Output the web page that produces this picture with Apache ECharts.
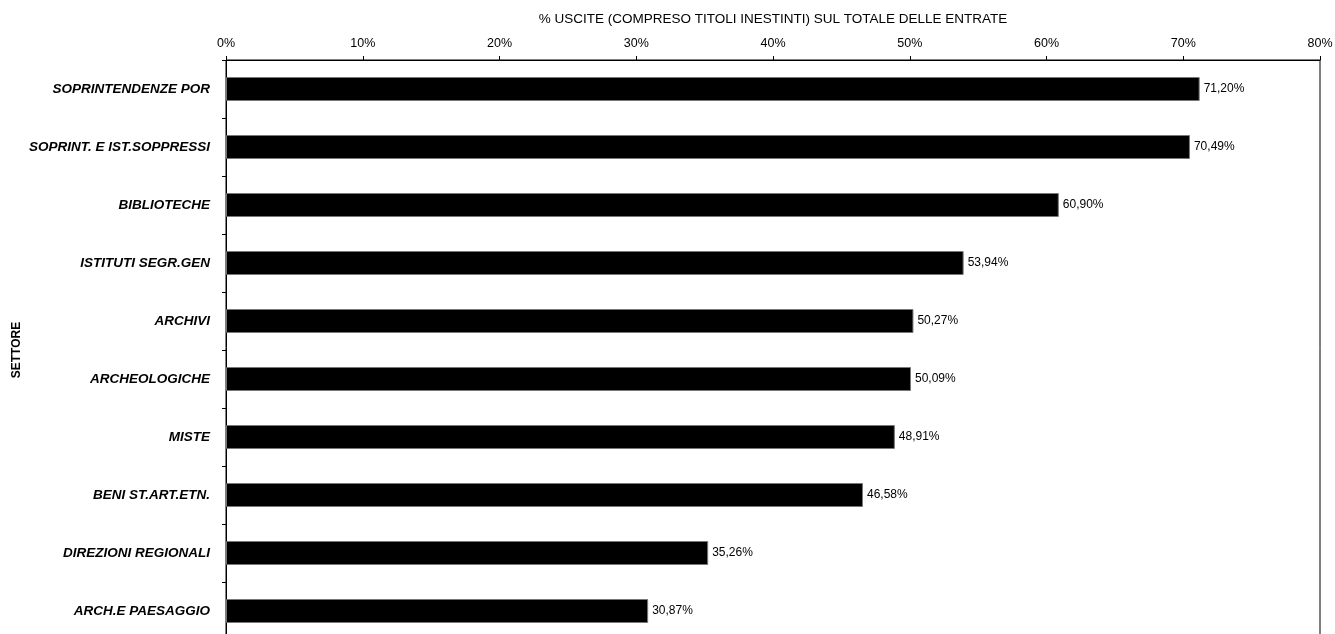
<!DOCTYPE html>
<html>
<head>
<meta charset="utf-8">
<script src="https://cdn.jsdelivr.net/npm/echarts@6/dist/echarts.min.js"></script>
<style>html,body{margin:0;padding:0;background:#fff}#c{width:1335px;height:634px}</style>
</head>
<body>
<div id="c"></div>
<script>
const categories = ['SOPRINTENDENZE POR','SOPRINT. E IST.SOPPRESSI','BIBLIOTECHE','ISTITUTI SEGR.GEN','ARCHIVI','ARCHEOLOGICHE','MISTE','BENI ST.ART.ETN.','DIREZIONI REGIONALI','ARCH.E PAESAGGIO'];
const values = [71.20, 70.49, 60.90, 53.94, 50.27, 50.09, 48.91, 46.58, 35.26, 30.87];
const xTitle = '% USCITE (COMPRESO TITOLI INESTINTI) SUL TOTALE DELLE ENTRATE';
const yTitle = 'SETTORE';

const FONT = 'Liberation Sans, Arial, sans-serif';
const chart = echarts.init(document.getElementById('c'), null, {renderer: 'canvas'});
chart.setOption({
  animation: false,
  backgroundColor: '#fff',
  textStyle: {fontFamily: FONT},
  grid: {left: 226, right: 15, top: 60, bottom: -6, containLabel: false, outerBoundsMode: 'none',
         show: true, borderColor: '#000', borderWidth: 1, backgroundColor: 'transparent'},
  xAxis: {
    type: 'value', position: 'top', min: 0, max: 80, interval: 10,
    name: xTitle, nameLocation: 'middle', nameGap: 34,
    nameTextStyle: {fontSize: 13.5, fontWeight: 'normal', color: '#000', fontFamily: FONT},
    axisLine: {show: true, lineStyle: {color: '#000', width: 1}},
    axisTick: {show: true, length: 4, lineStyle: {color: '#000'}},
    axisLabel: {formatter: '{value}%', fontSize: 12.5, color: '#000', margin: 10, fontFamily: FONT},
    splitLine: {show: false}
  },
  yAxis: {
    type: 'category', data: categories, inverse: true,
    name: yTitle, nameLocation: 'middle', nameGap: 203, nameMoveOverlap: false,
    nameTextStyle: {fontSize: 12, fontWeight: 'bold', color: '#000', fontFamily: FONT},
    axisLine: {show: true, lineStyle: {color: '#000', width: 1}},
    axisTick: {show: true, length: 4, lineStyle: {color: '#000'}},
    axisLabel: {fontSize: 13.5, fontStyle: 'italic', fontWeight: 'bold', color: '#000', margin: 16, fontFamily: FONT},
    splitLine: {show: false}
  },
  series: [{
    type: 'bar', data: values, barWidth: 24,
    itemStyle: {color: '#000', borderColor: '#777', borderWidth: 1},
    label: {
      show: true, position: 'right', distance: 4, color: '#000', fontSize: 12, fontFamily: FONT,
      formatter: p => p.value.toFixed(2).replace('.', ',') + '%'
    }
  }]
});
</script>
</body>
</html>
